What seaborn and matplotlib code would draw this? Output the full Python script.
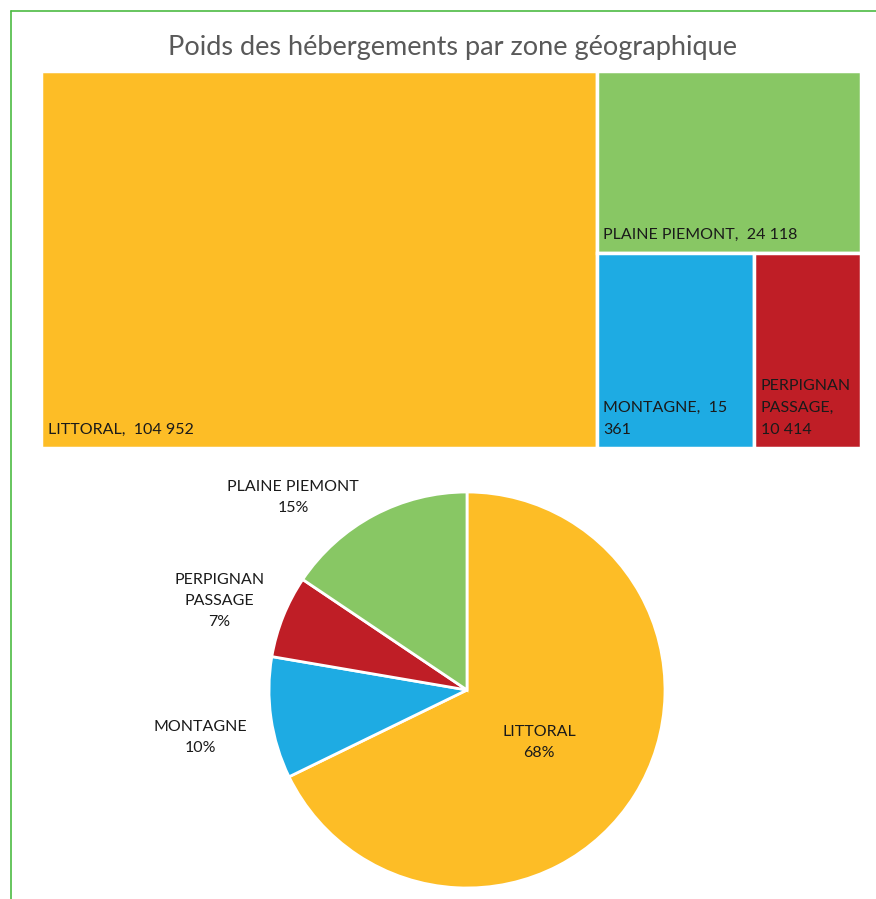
import matplotlib
matplotlib.use("Agg")
import matplotlib.pyplot as plt
import seaborn as sns
import numpy as np
from matplotlib.lines import Line2D

# data
zones = ["LITTORAL", "PLAINE PIEMONT", "MONTAGNE", "PERPIGNAN PASSAGE"]
hebergements = [104952, 24118, 15361, 10414]
# pie order (clockwise from 12 o'clock) and the percentages shown on it
pie_order = ["LITTORAL", "MONTAGNE", "PERPIGNAN PASSAGE", "PLAINE PIEMONT"]
pie_pct = [68, 10, 7, 15]

colors = {
    "LITTORAL": "#FDBD26",
    "PLAINE PIEMONT": "#88C764",
    "MONTAGNE": "#1EABE3",
    "PERPIGNAN PASSAGE": "#BF1E26",
}

sns.set_theme(style="white")
plt.rcParams["font.family"] = ["Lato", "DejaVu Sans"]

fig = plt.figure(figsize=(8.76, 8.99), dpi=100)
W, H = 876, 899

def fig_rect(x0, y0, x1, y1):
    return [x0 / W, 1 - y1 / H, (x1 - x0) / W, (y1 - y0) / H]

# frame border
fig.add_artist(Line2D([11 / W, 11 / W], [0, 1 - 11 / H], color="#4DBB43", lw=1.2))
fig.add_artist(Line2D([11 / W, 1], [1 - 11 / H, 1 - 11 / H], color="#4DBB43", lw=1.2))

fig.text(453 / W, 1 - 47 / H, "Poids des hébergements par zone géographique",
         ha="center", va="center", fontsize=19.5, color="#595959")

# ---- treemap (squarified layout from values) ----
ax = fig.add_axes(fig_rect(41, 71, 861, 448))
vals = dict(zip(zones, hebergements))
total = sum(hebergements)
rest = total - vals["LITTORAL"]
w_lit = vals["LITTORAL"] / total
h_plaine = vals["PLAINE PIEMONT"] / rest
bottom_rest = vals["MONTAGNE"] + vals["PERPIGNAN PASSAGE"]
w_mont = (1 - w_lit) * vals["MONTAGNE"] / bottom_rest

rects = {
    "LITTORAL": (0, 0, w_lit, 1),
    "PLAINE PIEMONT": (w_lit, 1 - h_plaine, 1 - w_lit, h_plaine),
    "MONTAGNE": (w_lit, 0, w_mont, 1 - h_plaine),
    "PERPIGNAN PASSAGE": (w_lit + w_mont, 0, 1 - w_lit - w_mont, 1 - h_plaine),
}

def fmt(v):
    return f"{v:,}".replace(",", " ")

tm_labels = {
    "LITTORAL": f"LITTORAL,  {fmt(vals['LITTORAL'])}",
    "PLAINE PIEMONT": f"PLAINE PIEMONT,  {fmt(vals['PLAINE PIEMONT'])}",
    "MONTAGNE": "MONTAGNE,  15\n361",
    "PERPIGNAN PASSAGE": "PERPIGNAN\nPASSAGE,\n10 414",
}

for z in zones:
    x, y, w, h = rects[z]
    ax.bar(x, h, width=w, bottom=y, align="edge", color=colors[z],
           edgecolor="white", linewidth=2.5)
    ax.text(x + 0.008, y + 0.03, tm_labels[z], ha="left", va="bottom",
            fontsize=11.5, color="#1a1a1a", linespacing=1.7)

ax.set_xlim(0, 1)
ax.set_ylim(0, 1)
ax.axis("off")

# ---- pie ----
r = 198
axp = fig.add_axes(fig_rect(467 - r, 690 - r, 467 + r, 690 + r))
pie_vals = [vals[z] for z in pie_order]
wedges, _ = axp.pie(pie_vals, colors=[colors[z] for z in pie_order],
                    startangle=90, counterclock=False,
                    wedgeprops=dict(edgecolor="white", linewidth=2))
axp.set_xlim(-1, 1)
axp.set_ylim(-1, 1)

pie_text = {
    "LITTORAL": "LITTORAL",
    "MONTAGNE": "MONTAGNE",
    "PERPIGNAN PASSAGE": "PERPIGNAN\nPASSAGE",
    "PLAINE PIEMONT": "PLAINE PIEMONT",
}
# label placement: (angle offset deg, radial distance)
label_pos = {
    "LITTORAL": (-4, 0.45),
    "MONTAGNE": (2, 1.37),
    "PERPIGNAN PASSAGE": (2, 1.33),
    "PLAINE PIEMONT": (14, 1.31),
}
for z, pct, wdg in zip(pie_order, pie_pct, wedges):
    mid = (wdg.theta1 + wdg.theta2) / 2 + label_pos[z][0]
    d = label_pos[z][1]
    axp.text(d * np.cos(np.radians(mid)), d * np.sin(np.radians(mid)),
             f"{pie_text[z]}\n{pct}%", ha="center", va="center",
             fontsize=11.5, color="#1a1a1a", linespacing=1.65)

fig.savefig("out.png", dpi=100)
